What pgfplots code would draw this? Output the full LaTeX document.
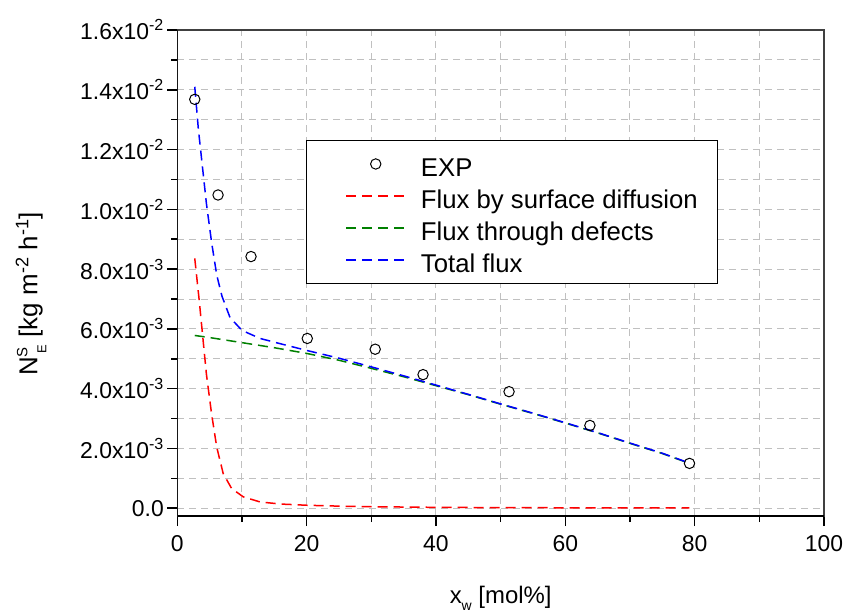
\documentclass[border=0pt]{standalone}
\usepackage{fontspec}
\setmainfont{Liberation Sans}
\usepackage{pgfplots}
\pgfplotsset{compat=1.18}
\definecolor{gridgray}{RGB}{192,192,192}
\definecolor{dgreen}{RGB}{0,128,0}
\begin{document}
\begin{tikzpicture}
\begin{axis}[
  scale only axis,
  width=646.7bp, height=486bp,
  xmin=0, xmax=100, ymin=-0.00026, ymax=0.016,
  xtick={0,20,40,60,80,100},
  minor x tick num=1,
  ytick={0,0.002,0.004,0.006,0.008,0.010,0.012,0.014,0.016},
  yticklabels={0.0, 2.0x10\textsuperscript{-3}, 4.0x10\textsuperscript{-3}, 6.0x10\textsuperscript{-3}, 8.0x10\textsuperscript{-3}, 1.0x10\textsuperscript{-2}, 1.2x10\textsuperscript{-2}, 1.4x10\textsuperscript{-2}, 1.6x10\textsuperscript{-2}},
  minor y tick num=1,
  scaled y ticks=false,
  /pgf/number format/assume math mode=true,
  tick label style={font=\fontsize{23}{23}\selectfont},
  xticklabel style={yshift=-6bp},
  xtick pos=bottom, ytick pos=left,
  tick align=outside,
  major tick length=10bp, minor tick length=6bp,
  every tick/.style={black, line width=1.5bp},
  axis line style={line width=1.5bp, black!75},
  grid=both,
  major grid style={gridgray, line width=1bp, dash pattern=on 7bp off 5bp},
  minor grid style={gridgray, line width=1bp, dash pattern=on 7bp off 5bp},
  xlabel={x\raisebox{-7bp}{\fontsize{14}{14}\selectfont w} [mol\%]},
  ylabel={N\raisebox{10bp}{\fontsize{15}{15}\selectfont S}\hspace{-6bp}\raisebox{-9bp}{\fontsize{13}{13}\selectfont E} [kg m\textsuperscript{-2} h\textsuperscript{-1}]},
  xlabel style={font=\fontsize{24}{24}\selectfont, at={(axis description cs:0.5,-0.170)}, anchor=center},
  ylabel style={font=\fontsize{26}{26}\selectfont, at={(axis description cs:-0.226,0.457)}, anchor=center},
  legend image code/.code={\path (0bp,0bp); \draw[mark repeat=2,mark phase=2,#1] plot coordinates {(19bp,0bp) (48.5bp,0bp) (78bp,0bp)};},
  legend cell align=left,
  legend style={at={(axis description cs:0.199,0.7737)}, anchor=north west,
    draw=black, line width=1bp, fill=white,
    font=\fontsize{25.8}{25.8}\selectfont,
    inner xsep=20bp, inner ysep=9bp, column sep=15bp, row sep=3bp,
    nodes={inner sep=0pt, text height=27bp, text depth=2bp}},
]
\addplot[only marks, mark=o, mark size=5.2bp, black, line width=1bp] coordinates {
(2.7,0.01368) (6.3,0.01048) (11.4,0.00842) (20.1,0.00568) (30.6,0.00532)
(38.0,0.00447) (51.3,0.00390) (63.8,0.00277) (79.2,0.00150)
};
\addlegendentry{EXP}
\addplot[red, line width=1.5bp, dash pattern=on 10bp off 6bp] coordinates {
(2.7,0.00836) (3.4,0.00693) (3.9,0.00582) (4.5,0.00449) (5.3,0.00316) (6.1,0.00204)
(7.1,0.00116) (8.4,0.00066) (10.2,0.00038) (12.8,0.00021) (16,0.00014) (20,0.00010)
(25,0.00007) (30,0.00005) (40,0.00003) (50,0.00002) (60,0.000015) (70,0.00001) (79.2,0.00001)
};
\addlegendentry{Flux by surface diffusion}
\addplot[dgreen, line width=1.5bp, dash pattern=on 10bp off 6bp] coordinates {
(2.7,0.00578) (5,0.00571) (10,0.00554) (15,0.00537) (20,0.00518) (25,0.00495)
(30,0.00468) (35,0.00440) (40,0.00410) (45,0.00380) (50,0.00348) (55,0.00317)
(60,0.00285) (65,0.00252) (70,0.00217) (75,0.00183) (79.2,0.00150)
};
\addlegendentry{Flux through defects}
\addplot[blue, line width=1.5bp, dash pattern=on 10bp off 6bp] coordinates {
(2.7,0.0141) (3.25,0.0127) (3.9,0.0114) (4.5,0.0102) (5.3,0.0089) (6.1,0.0078)
(6.9,0.0071) (8.15,0.00638) (10,0.00595) (12.8,0.00568) (16,0.00550) (20,0.00528)
(25,0.00502) (30,0.00473) (35,0.00443) (40,0.00412) (45,0.00381) (50,0.00349)
(55,0.00318) (60,0.00286) (65,0.00253) (70,0.00218) (75,0.00184) (79.2,0.00151)
};
\addlegendentry{Total flux}
\draw[line width=2bp, black] (rel axis cs:0,1) -- (rel axis cs:0,0) -- (rel axis cs:1,0);
\end{axis}
\path (current axis.south west) ++(-177.3bp,-99bp) rectangle ++(850bp,615bp);
\end{tikzpicture}
\end{document}
